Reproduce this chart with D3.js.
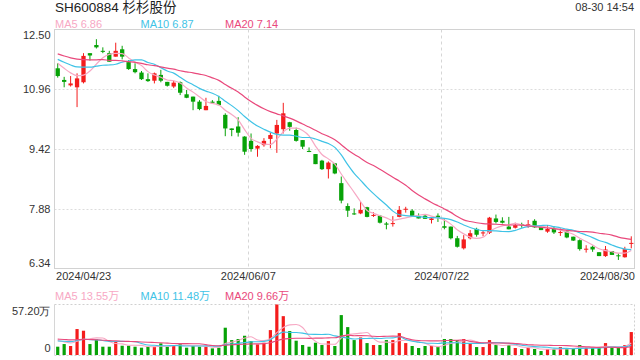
<!DOCTYPE html>
<html><head><meta charset="utf-8">
<script src="https://cdn.jsdelivr.net/npm/d3@7/dist/d3.min.js"></script>
<style>
body{margin:0;background:#fff;}
svg{display:block;font-family:"Liberation Sans",Arial,"Noto Sans CJK SC",sans-serif;}
</style></head><body>
<svg id="c" width="640" height="360"></svg>
<script>
const title = "SH600884 杉杉股份";
const timeLabel = "08-30 14:54";
const dates = [
"2024/04/23","2024/04/24","2024/04/25","2024/04/26","2024/04/29","2024/04/30",
"2024/05/06","2024/05/07","2024/05/08","2024/05/09","2024/05/10","2024/05/13","2024/05/14","2024/05/15","2024/05/16","2024/05/17",
"2024/05/20","2024/05/21","2024/05/22","2024/05/23","2024/05/24","2024/05/27","2024/05/28","2024/05/29","2024/05/30","2024/05/31",
"2024/06/03","2024/06/04","2024/06/05","2024/06/06","2024/06/07","2024/06/11","2024/06/12","2024/06/13","2024/06/14",
"2024/06/17","2024/06/18","2024/06/19","2024/06/20","2024/06/21","2024/06/24","2024/06/25","2024/06/26","2024/06/27","2024/06/28",
"2024/07/01","2024/07/02","2024/07/03","2024/07/04","2024/07/05","2024/07/08","2024/07/09","2024/07/10","2024/07/11","2024/07/12",
"2024/07/15","2024/07/16","2024/07/17","2024/07/18","2024/07/19","2024/07/22","2024/07/23","2024/07/24","2024/07/25","2024/07/26",
"2024/07/29","2024/07/30","2024/07/31","2024/08/01","2024/08/02","2024/08/05","2024/08/06","2024/08/07","2024/08/08","2024/08/09",
"2024/08/12","2024/08/13","2024/08/14","2024/08/15","2024/08/16","2024/08/19","2024/08/20","2024/08/21","2024/08/22","2024/08/23",
"2024/08/26","2024/08/27","2024/08/28","2024/08/29","2024/08/30"];
const open = [11.50,11.20,11.06,11.01,11.14,11.89,12.10,11.95,11.89,11.80,
11.99,11.66,11.48,11.39,11.22,11.18,11.33,11.15,11.03,11.14,
10.83,10.77,10.64,10.42,10.64,10.66,10.30,9.95,10.00,9.74,
9.63,9.43,9.52,9.68,9.82,9.93,10.11,9.91,9.65,9.37,
9.29,9.12,8.90,9.05,8.54,7.95,7.76,7.76,7.92,7.70,
7.70,7.50,7.50,7.67,7.87,7.83,7.69,7.70,7.59,7.70,
7.43,7.42,7.12,6.86,7.12,7.36,7.26,7.26,7.63,7.57,
7.42,7.39,7.48,7.45,7.57,7.42,7.29,7.36,7.27,7.29,
7.16,7.07,6.84,6.90,6.76,6.66,6.79,6.68,6.63,6.98];
const high = [11.63,11.28,11.30,11.37,11.89,11.89,12.25,12.04,11.95,12.16,
12.08,11.71,11.63,11.43,11.37,11.39,11.46,11.15,11.18,11.16,
10.94,10.77,10.68,10.74,10.68,10.79,10.34,9.95,10.24,9.75,
9.82,9.52,9.70,9.84,10.17,10.61,10.12,9.97,9.65,9.46,
9.29,9.14,9.10,9.06,8.71,8.02,7.89,8.06,7.93,7.79,
7.72,7.54,7.69,7.95,7.93,7.87,7.76,7.73,7.67,7.76,
7.61,7.42,7.18,7.20,7.33,7.39,7.33,7.67,7.73,7.66,
7.67,7.52,7.52,7.59,7.61,7.42,7.46,7.42,7.37,7.33,
7.16,7.09,6.94,6.93,6.76,6.92,6.79,6.73,6.90,7.17];
const low = [11.26,11.01,11.03,10.50,11.11,11.70,12.01,11.89,11.67,11.80,
11.73,11.46,11.37,11.20,11.15,11.11,11.14,11.03,10.99,10.81,
10.73,10.42,10.42,10.42,10.58,10.55,9.75,9.75,9.74,9.27,
9.35,9.22,9.48,9.44,9.32,9.82,9.89,9.61,9.42,9.34,
9.03,8.88,8.66,8.77,8.02,7.67,7.72,7.74,7.66,7.67,
7.50,7.35,7.42,7.66,7.78,7.67,7.63,7.62,7.50,7.54,
7.35,7.09,6.88,6.83,7.09,7.16,7.17,7.23,7.50,7.50,
7.35,7.37,7.39,7.39,7.39,7.33,7.26,7.23,7.18,7.12,
7.05,6.80,6.75,6.77,6.66,6.64,6.69,6.56,6.62,6.86];
const close = [11.30,11.15,11.11,11.24,11.82,11.83,12.04,11.94,11.67,11.95,
11.80,11.48,11.40,11.22,11.17,11.37,11.18,11.05,11.13,10.87,
10.74,10.64,10.45,10.53,10.61,10.55,9.95,9.91,9.84,9.35,
9.42,9.50,9.63,9.78,10.04,10.34,9.99,9.63,9.48,9.35,
9.03,8.90,9.07,8.79,8.09,7.83,7.74,7.85,7.67,7.72,
7.52,7.47,7.51,7.85,7.88,7.69,7.63,7.62,7.63,7.66,
7.39,7.12,6.90,7.09,7.25,7.21,7.27,7.65,7.54,7.52,
7.35,7.46,7.46,7.48,7.40,7.33,7.36,7.27,7.28,7.14,
7.06,6.84,6.85,6.83,6.66,6.83,6.69,6.66,6.84,7.00];
// volume in 万 (10k)
const volume = [9.4,12.4,10.2,29.4,27.5,12.4,17.7,9.4,9.4,15.8,
10.5,10.5,9.4,8.3,9.4,9.4,13.2,9.4,11.3,13.2,
8.3,10.2,9.4,9.4,7.5,8.3,30.9,16.9,18.1,21.8,
15.8,12.0,13.9,28.2,57.2,44.0,27.1,16.2,11.3,9.4,
13.9,11.3,15.8,10.2,45.2,31.6,16.9,19.9,13.5,11.3,
11.3,16.9,16.9,24.8,13.5,10.2,7.9,10.2,10.2,9.0,
18.1,18.1,16.9,18.1,13.5,9.0,9.0,16.9,11.3,7.9,
11.3,7.9,6.8,7.9,6.8,4.5,6.8,6.8,9.0,6.8,
7.9,11.3,9.0,7.9,7.9,13.5,9.0,7.9,11.3,26.0];
// sessions before the visible window (estimated from where the MA lines start)
const priorClose = [12.20,12.05,11.95,12.10,11.90,12.00,11.85,12.05,11.95,12.05,
11.90,11.80,11.75,11.85,11.85,11.80,11.70,11.60,11.75];
const priorVolume = [22.0,18.5,24.3,19.6,17.8,21.0,20.4,18.9,19.5,20.0,
15.0,14.2,16.3,15.5,14.5,20.5,17.0,19.1,16.5];
const yTicks = [12.50,10.96,9.42,7.88,6.34];
const volTicks = [0,57.20];
const dateTicks = ["2024/04/23","2024/06/07","2024/07/22","2024/08/30"];
const maNames = ["MA5","MA10","MA20"];
const maPeriods = [5,10,20];
const priceMaLabels = ["6.86","6.87","7.14"];
const volMaLabels = ["13.55万","11.48万","9.66万"];

const RED = "#f41c1c", GREEN = "#07a207";
const maColors = ["#f7a8c4","#3fc3e6","#e9497c"];
const svg = d3.select("#c");
const L = 54.5, R = 634.5, T = 29.5, B = 268.5, VT = 304.5, VB = 355;

const idx = d3.range(dates.length);
const x = d3.scaleBand().domain(idx).range([L, R]);
const xl = d3.scaleLinear().domain([0, dates.length]).range([L, R]);
const cx = i => x(i) + x.bandwidth() / 2;
const y = d3.scaleLinear().domain([6.34, 12.50]).range([B, T]);
const yv = d3.scaleLinear().domain([0, 57.20]).range([VB, VT]);

function ma(series, prior, n) {
  const all = prior.concat(series), off = prior.length;
  return series.map((_, i) => d3.mean(all.slice(i + off - n + 1, i + off + 1)));
}
const isUp = i => close[i] >= open[i];

// title & time
svg.append("text").attr("x", 55).attr("y", 12).attr("font-size", 13.5).attr("fill", "#222").text(title);
svg.append("text").attr("x", 634).attr("y", 11).attr("text-anchor", "end").attr("font-size", 11).attr("fill", "#333").text(timeLabel);
// legends
const lx = [55, 140.5, 225];
maNames.forEach((n, k) => {
  svg.append("text").attr("x", lx[k]).attr("y", 27.5).attr("font-size", 11).attr("fill", maColors[k]).text(n + " " + priceMaLabels[k]);
  svg.append("text").attr("x", lx[k]).attr("y", 299.5).attr("font-size", 11).attr("fill", maColors[k]).text(n + " " + volMaLabels[k]);
});

// grid main
const g = svg.append("g");
g.selectAll(".hg").data(yTicks.slice(1, -1)).join("line")
  .attr("x1", L).attr("x2", R).attr("y1", d => Math.round(y(d)) + 0.5).attr("y2", d => Math.round(y(d)) + 0.5)
  .attr("stroke", "#dcdcdc").attr("stroke-dasharray", "2,2");
const vIdx = dateTicks.slice(1, -1).map(d => dates.indexOf(d));
[[T, B], [VT, VB]].forEach(([a, b]) => {
  g.selectAll(null).data(vIdx).join("line")
    .attr("x1", d => Math.round(xl(d)) + 0.5).attr("x2", d => Math.round(xl(d)) + 0.5)
    .attr("y1", a).attr("y2", b).attr("stroke", "#d6d6d6").attr("stroke-dasharray", "3,3");
});
// frames
g.append("rect").attr("x", L).attr("y", T).attr("width", R - L).attr("height", B - T)
  .attr("fill", "none").attr("stroke", "#d2d2d2");
g.append("line").attr("x1", L).attr("x2", R).attr("y1", VT).attr("y2", VT).attr("stroke", "#d0d0d0").attr("stroke-dasharray", "2,2");
g.append("line").attr("x1", L).attr("x2", R).attr("y1", VB + 0.5).attr("y2", VB + 0.5).attr("stroke", "#d0d0d0").attr("stroke-dasharray", "2,2");
g.append("line").attr("x1", R).attr("x2", R).attr("y1", VT).attr("y2", VB).attr("stroke", "#d0d0d0").attr("stroke-dasharray", "2,2");
g.append("line").attr("x1", L).attr("x2", L).attr("y1", VT).attr("y2", VB).attr("stroke", "#d6d6d6");

// y axis
const ya = svg.append("g").attr("transform", `translate(${L},0)`)
  .call(d3.axisLeft(y).tickValues(yTicks).tickFormat(d3.format(".2f")).tickSize(0).tickPadding(4));
ya.select(".domain").remove();
ya.selectAll("text").attr("font-size", 11).attr("fill", "#333").attr("font-family", null)
  .attr("dy", (d, i) => i === 0 ? "0.85em" : i === yTicks.length - 1 ? "-0.15em" : "0.32em");
const va = svg.append("g").attr("transform", `translate(${L},0)`)
  .call(d3.axisLeft(yv).tickValues(volTicks).tickFormat(d => d === 0 ? "0" : d3.format(".2f")(d) + "万").tickSize(0).tickPadding(4));
va.select(".domain").remove();
va.selectAll("text").attr("font-size", 11).attr("fill", "#333").attr("font-family", null)
  .attr("dy", d => d === 0 ? "-0.3em" : "0.95em");
// date axis
const dIdx = dateTicks.map(d => { const k = dates.indexOf(d); return k === dates.length - 1 ? dates.length : k; });
const xa = svg.append("g").attr("transform", `translate(0,${B})`)
  .call(d3.axisBottom(xl).tickValues(dIdx).tickFormat((d, i) => dateTicks[i]).tickSize(0).tickPadding(4));
xa.select(".domain").remove();
xa.selectAll("text").attr("font-size", 11).attr("fill", "#333").attr("font-family", null)
  .attr("text-anchor", (d, i) => i === 0 ? "start" : i === dateTicks.length - 1 ? "end" : "middle")
  .attr("dx", (d, i) => i === 0 ? "0.1em" : 0);

// candles
const bw = 4.3;
const cg = svg.append("g");
cg.selectAll(".wick").data(idx).join("line")
  .attr("x1", cx).attr("x2", cx).attr("y1", i => y(high[i])).attr("y2", i => y(low[i]))
  .attr("stroke", i => isUp(i) ? RED : GREEN).attr("stroke-width", 1);
cg.selectAll(".body").data(idx).join("rect")
  .attr("x", i => cx(i) - bw / 2).attr("width", bw)
  .attr("y", i => y(Math.max(open[i], close[i])))
  .attr("height", i => Math.max(1, Math.abs(y(open[i]) - y(close[i]))))
  .attr("fill", i => isUp(i) ? RED : GREEN);

// volume bars
const vw = 3.2;
svg.append("g").selectAll("rect").data(idx).join("rect")
  .attr("x", i => cx(i) - vw / 2).attr("width", vw)
  .attr("y", i => yv(volume[i])).attr("height", i => VB - yv(volume[i]))
  .attr("fill", i => isUp(i) ? RED : GREEN);

// MA lines
maPeriods.forEach((n, k) => {
  const m = ma(close, priorClose, n);
  svg.append("path").datum(idx)
    .attr("d", d3.line().x(cx).y(i => y(m[i])).curve(d3.curveMonotoneX))
    .attr("fill", "none").attr("stroke", maColors[k]).attr("stroke-width", 1.2);
  const mv = ma(volume, priorVolume, n);
  svg.append("path").datum(idx)
    .attr("d", d3.line().x(cx).y(i => yv(mv[i])).curve(d3.curveMonotoneX))
    .attr("fill", "none").attr("stroke", maColors[k]).attr("stroke-width", 1.1);
});
</script>
</body></html>
